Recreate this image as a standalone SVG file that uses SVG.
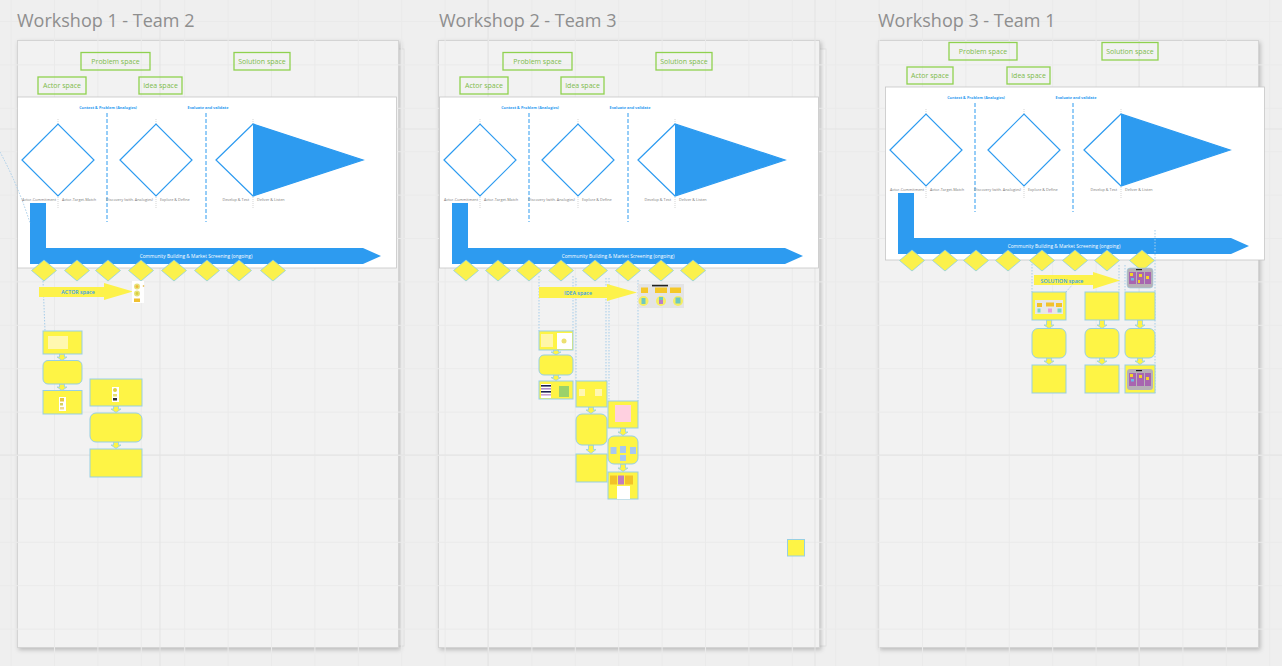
<svg xmlns="http://www.w3.org/2000/svg" width="1282" height="666" viewBox="0 0 1282 666">
<defs>
<filter id="sh" x="-5%" y="-5%" width="110%" height="110%"><feDropShadow dx="1.5" dy="2" stdDeviation="2" flood-color="#000" flood-opacity="0.22"/></filter>
<pattern id="grid" x="488" y="455" width="43.4" height="43.4" patternUnits="userSpaceOnUse"><path d="M0,0.5 H43.4 M0.5,0 V43.4" stroke="#eaeaea" stroke-width="1" fill="none"/></pattern>
<style>
text{font-family:"Open Sans","Liberation Sans",sans-serif}
.frame{fill:#f2f2f2;stroke:#d4d4d4;stroke-width:1;filter:url(#sh)}
.back{fill:#f6f6f6;stroke:#dedede;stroke-width:.8}
.title{font-size:18px;fill:#8e8e8e}
.hdr rect{fill:none;stroke:#8fd14f;stroke-width:1.3}
.hdr text{font-size:7px;fill:#7dbb4a;text-anchor:middle}
.panel{fill:#fff;stroke:#c6c6c6;stroke-width:.8}
.ph{font-size:3.8px;font-weight:700;fill:#2d9bf0;text-anchor:middle}
.lbl{font-size:3.8px;fill:#7a7a7a}
.lr{text-anchor:end}
.dash{stroke:#2d9bf0;stroke-width:1;stroke-dasharray:4 2}
.dot{stroke:#b8b8b8;stroke-width:.6;stroke-dasharray:1 1}
.dia{fill:#fff;stroke:#2d9bf0;stroke-width:1.2}
.blue{fill:#2d9bf0}
.cm{font-size:4.8px;fill:#fff;text-anchor:middle}
.yd{fill:#fbf14c;stroke:#8ecfe0;stroke-width:.8}
.box{fill:#fef445;stroke:#97cfe3;stroke-width:1}
.barrow{fill:#fef445;stroke:#97cfe3;stroke-width:.8}
.space{fill:#fdf24a}
.spt{font-size:5.3px;fill:#2d9bf0;text-anchor:middle;font-weight:600}
.link{stroke:#a6cdea;stroke-width:1;stroke-dasharray:1.5 1.5;fill:none}
.major{stroke:#e3e3e3;stroke-width:1}
</style>
</defs>
<rect width="1282" height="666" fill="#efefef"/>
<g id="frames">
<rect class="back" x="22" y="49" width="382" height="597"/>
<rect class="back" x="444" y="49" width="382" height="597"/>
<rect class="frame" x="17.5" y="40.5" width="381" height="607"/>
<rect class="frame" x="438.5" y="40.5" width="381" height="607"/>
<rect class="frame" x="878.5" y="40.5" width="380" height="607"/>
</g>
<g id="grid-layer">
<rect width="1282" height="666" fill="url(#grid)"/>
<line class="major" x1="160" y1="0" x2="160" y2="666"/>
<line class="major" x1="488" y1="0" x2="488" y2="666"/>
<line class="major" x1="815" y1="0" x2="815" y2="666"/>
<line class="major" x1="1139" y1="0" x2="1139" y2="666"/>
<line class="major" x1="0" y1="129" x2="1282" y2="129"/>
<line class="major" x1="0" y1="455" x2="1282" y2="455"/>
</g>
<g id="titles">
<text class="title" x="17" y="27">Workshop 1 - Team 2</text>
<text class="title" x="439" y="27">Workshop 2 - Team 3</text>
<text class="title" x="878" y="27">Workshop 3 - Team 1</text>
</g>

<g id="w1" transform="translate(17,40)">
<g id="w1-problem-space" class="hdr"><rect x="64" y="12.5" width="69" height="17.5"/><text x="98.5" y="23.5">Problem space</text></g>
<g id="w1-solution-space" class="hdr"><rect x="217" y="12.5" width="56" height="17.5"/><text x="245" y="23.5">Solution space</text></g>
<g id="w1-actor-space" class="hdr"><rect x="21" y="37" width="48" height="17"/><text x="45" y="48">Actor space</text></g>
<g id="w1-idea-space" class="hdr"><rect x="122" y="37" width="43" height="17"/><text x="143.5" y="48">Idea space</text></g>
<g id="w1-panel"><rect class="panel" x="0.5" y="57" width="379" height="171"/></g>
<g id="w1-phases">
<text class="ph" x="91" y="68.5">Context &amp; Problem (Analogies)</text>
<text class="ph" x="191" y="68.5">Evaluate and validate</text>
<line class="dash" x1="90" y1="73" x2="90" y2="182"/>
<line class="dash" x1="189" y1="73" x2="189" y2="182"/>
<line class="dot" x1="41" y1="79" x2="41" y2="168"/>
<line class="dot" x1="139" y1="79" x2="139" y2="168"/>
<line class="dot" x1="236" y1="79" x2="236" y2="168"/>
</g>
<g id="w1-diamond-actor"><polygon class="dia" points="5,120 41,84 77,120 41,156"/></g>
<g id="w1-diamond-idea"><polygon class="dia" points="103,120 139,84 175,120 139,156"/></g>
<g id="w1-diamond-solution"><polygon class="dia" points="199,120 236,84 346,120 236,156"/><polygon class="blue" points="236,84 346,120 236,156"/></g>
<g id="w1-labels">
<text class="lbl lr" x="39" y="161">Actor-Commitment</text>
<text class="lbl" x="45" y="161">Actor-Target-Match</text>
<text class="lbl lr" x="136" y="161">Discovery (with. Analogies)</text>
<text class="lbl" x="143" y="161">Explore &amp; Define</text>
<text class="lbl lr" x="232" y="161">Develop &amp; Test</text>
<text class="lbl" x="240" y="161">Deliver &amp; Listen</text>
</g>
<g id="w1-community"><path class="blue" d="M13,163 H29 V208 H346 L364,216 L346,224 H13 Z"/><text class="cm" x="179" y="217.8">Community Building &amp; Market Screening (ongoing)</text></g>
<g id="w1-steps">
<polygon class="yd" points="14.5,230.5 27,220 39.5,230.5 27,241"/>
<polygon class="yd" points="47.5,230.5 60,220 72.5,230.5 60,241"/>
<polygon class="yd" points="78.5,230.5 91,220 103.5,230.5 91,241"/>
<polygon class="yd" points="111.5,230.5 124,220 136.5,230.5 124,241"/>
<polygon class="yd" points="144.5,230.5 157,220 169.5,230.5 157,241"/>
<polygon class="yd" points="177.5,230.5 190,220 202.5,230.5 190,241"/>
<polygon class="yd" points="209.5,230.5 222,220 234.5,230.5 222,241"/>
<polygon class="yd" points="243.5,230.5 256,220 268.5,230.5 256,241"/>
</g>
</g>

<g id="w2" transform="translate(439,40)">
<g id="w2-problem-space" class="hdr"><rect x="64" y="12.5" width="69" height="17.5"/><text x="98.5" y="23.5">Problem space</text></g>
<g id="w2-solution-space" class="hdr"><rect x="217" y="12.5" width="56" height="17.5"/><text x="245" y="23.5">Solution space</text></g>
<g id="w2-actor-space" class="hdr"><rect x="21" y="37" width="48" height="17"/><text x="45" y="48">Actor space</text></g>
<g id="w2-idea-space" class="hdr"><rect x="122" y="37" width="43" height="17"/><text x="143.5" y="48">Idea space</text></g>
<g id="w2-panel"><rect class="panel" x="0.5" y="57" width="379" height="171"/></g>
<g id="w2-phases">
<text class="ph" x="91" y="68.5">Context &amp; Problem (Analogies)</text>
<text class="ph" x="191" y="68.5">Evaluate and validate</text>
<line class="dash" x1="90" y1="73" x2="90" y2="182"/>
<line class="dash" x1="189" y1="73" x2="189" y2="182"/>
<line class="dot" x1="41" y1="79" x2="41" y2="168"/>
<line class="dot" x1="139" y1="79" x2="139" y2="168"/>
<line class="dot" x1="236" y1="79" x2="236" y2="168"/>
</g>
<g id="w2-diamond-actor"><polygon class="dia" points="5,120 41,84 77,120 41,156"/></g>
<g id="w2-diamond-idea"><polygon class="dia" points="103,120 139,84 175,120 139,156"/></g>
<g id="w2-diamond-solution"><polygon class="dia" points="199,120 236,84 346,120 236,156"/><polygon class="blue" points="236,84 346,120 236,156"/></g>
<g id="w2-labels">
<text class="lbl lr" x="39" y="161">Actor-Commitment</text>
<text class="lbl" x="45" y="161">Actor-Target-Match</text>
<text class="lbl lr" x="136" y="161">Discovery (with. Analogies)</text>
<text class="lbl" x="143" y="161">Explore &amp; Define</text>
<text class="lbl lr" x="232" y="161">Develop &amp; Test</text>
<text class="lbl" x="240" y="161">Deliver &amp; Listen</text>
</g>
<g id="w2-community"><path class="blue" d="M13,163 H29 V208 H346 L364,216 L346,224 H13 Z"/><text class="cm" x="179" y="217.8">Community Building &amp; Market Screening (ongoing)</text></g>
<g id="w2-steps">
<polygon class="yd" points="14.5,230.5 27,220 39.5,230.5 27,241"/>
<polygon class="yd" points="46.5,230.5 59,220 71.5,230.5 59,241"/>
<polygon class="yd" points="77.5,230.5 90,220 102.5,230.5 90,241"/>
<polygon class="yd" points="109.5,230.5 122,220 134.5,230.5 122,241"/>
<polygon class="yd" points="143.5,230.5 156,220 168.5,230.5 156,241"/>
<polygon class="yd" points="176.5,230.5 189,220 201.5,230.5 189,241"/>
<polygon class="yd" points="209.5,230.5 222,220 234.5,230.5 222,241"/>
<polygon class="yd" points="241.5,230.5 254,220 266.5,230.5 254,241"/>
</g>
</g>

<g id="w3" transform="translate(885,30)">
<g id="w3-problem-space" class="hdr"><rect x="64" y="12.5" width="68" height="17.5"/><text x="98" y="23.5">Problem space</text></g>
<g id="w3-solution-space" class="hdr"><rect x="217" y="12.5" width="56" height="17.5"/><text x="245" y="23.5">Solution space</text></g>
<g id="w3-actor-space" class="hdr"><rect x="22" y="37" width="46" height="17"/><text x="45" y="48">Actor space</text></g>
<g id="w3-idea-space" class="hdr"><rect x="122" y="37" width="43" height="17"/><text x="143.5" y="48">Idea space</text></g>
<g id="w3-panel"><rect class="panel" x="0.5" y="57" width="379" height="173"/></g>
<g id="w3-phases">
<text class="ph" x="91" y="68.5">Context &amp; Problem (Analogies)</text>
<text class="ph" x="191" y="68.5">Evaluate and validate</text>
<line class="dash" x1="90" y1="73" x2="90" y2="182"/>
<line class="dash" x1="188" y1="73" x2="188" y2="182"/>
<line class="dot" x1="41" y1="79" x2="41" y2="168"/>
<line class="dot" x1="139" y1="79" x2="139" y2="168"/>
<line class="dot" x1="236" y1="79" x2="236" y2="168"/>
</g>
<g id="w3-diamond-actor"><polygon class="dia" points="5,120 41,84 77,120 41,156"/></g>
<g id="w3-diamond-idea"><polygon class="dia" points="103,120 139,84 175,120 139,156"/></g>
<g id="w3-diamond-solution"><polygon class="dia" points="199,120 236,84 345,120 236,156"/><polygon class="blue" points="236,84 345,120 236,156"/></g>
<g id="w3-labels">
<text class="lbl lr" x="39" y="161">Actor-Commitment</text>
<text class="lbl" x="45" y="161">Actor-Target-Match</text>
<text class="lbl lr" x="136" y="161">Discovery (with. Analogies)</text>
<text class="lbl" x="143" y="161">Explore &amp; Define</text>
<text class="lbl lr" x="232" y="161">Develop &amp; Test</text>
<text class="lbl" x="240" y="161">Deliver &amp; Listen</text>
</g>
<g id="w3-community"><path class="blue" d="M13,163 H29 V208 H346 L364,216 L346,224 H13 Z"/><text class="cm" x="179" y="217.8">Community Building &amp; Market Screening (ongoing)</text></g>
<g id="w3-steps">
<polygon class="yd" points="14.5,230.5 27,220 39.5,230.5 27,241"/>
<polygon class="yd" points="47.5,230.5 60,220 72.5,230.5 60,241"/>
<polygon class="yd" points="78.5,230.5 91,220 103.5,230.5 91,241"/>
<polygon class="yd" points="110.5,230.5 123,220 135.5,230.5 123,241"/>
<polygon class="yd" points="144.5,230.5 157,220 169.5,230.5 157,241"/>
<polygon class="yd" points="177.5,230.5 190,220 202.5,230.5 190,241"/>
<polygon class="yd" points="209.5,230.5 222,220 234.5,230.5 222,241"/>
<polygon class="yd" points="244.5,230.5 257,220 269.5,230.5 257,241"/>
</g>
</g>

<g id="connectors">
<path class="link" d="M0,152 Q18,185 30,223"/>
<path class="link" d="M43,281 L45,331"/>
<line class="link" x1="539" y1="276" x2="539" y2="331"/>
<line class="link" x1="573" y1="276" x2="573" y2="331"/>
<line class="link" x1="576" y1="278" x2="576" y2="381"/>
<line class="link" x1="606" y1="278" x2="606" y2="381"/>
<line class="link" x1="609" y1="278" x2="609" y2="401"/>
<line class="link" x1="638" y1="280" x2="638" y2="401"/>
<line class="link" x1="1032" y1="264" x2="1032" y2="292"/>
<path class="link" d="M1066,292 L1080,276"/>
<line class="link" x1="1119" y1="265" x2="1119" y2="292"/>
<line class="link" x1="1125" y1="265" x2="1125" y2="292"/>
<line class="link" x1="1155" y1="230" x2="1155" y2="393"/>
<path class="barrow" d="M59.5,354 H64.5 V357 H67 L62,360.5 L57,357 H59.5 Z"/>
<path class="barrow" d="M59.5,384 H64.5 V387 H67 L62,390.5 L57,387 H59.5 Z"/>
<path class="barrow" d="M113.5,406 H118.5 V409 H121 L116,412.5 L111,409 H113.5 Z"/>
<path class="barrow" d="M113.5,442 H118.5 V445 H121 L116,448.5 L111,445 H113.5 Z"/>
<path class="barrow" d="M553.5,350 H558.5 V352 H561 L556,355 L551,352 H553.5 Z"/>
<path class="barrow" d="M553.5,375 H558.5 V377.5 H561 L556,380.5 L551,377.5 H553.5 Z"/>
<path class="barrow" d="M588.5,407 H593.5 V410 H596 L591,413.5 L586,410 H588.5 Z"/>
<path class="barrow" d="M588.5,445 H593.5 V449.5 H596 L591,453.5 L586,449.5 H588.5 Z"/>
<path class="barrow" d="M620.5,428 H625.5 V432 H628 L623,435.5 L618,432 H620.5 Z"/>
<path class="barrow" d="M620.5,464 H625.5 V468 H628 L623,471.5 L618,468 H620.5 Z"/>
<path class="barrow" d="M1046.5,320 H1051.5 V325 H1054 L1049,328.5 L1044,325 H1046.5 Z"/>
<path class="barrow" d="M1046.5,358 H1051.5 V361 H1054 L1049,364.5 L1044,361 H1046.5 Z"/>
<path class="barrow" d="M1099.5,320 H1104.5 V325 H1107 L1102,328.5 L1097,325 H1099.5 Z"/>
<path class="barrow" d="M1099.5,358 H1104.5 V361 H1107 L1102,364.5 L1097,361 H1099.5 Z"/>
<path class="barrow" d="M1137.5,320 H1142.5 V325 H1145 L1140,328.5 L1135,325 H1137.5 Z"/>
<path class="barrow" d="M1137.5,358 H1142.5 V361 H1145 L1140,364.5 L1135,361 H1137.5 Z"/>
</g>

<g id="w1-actor-space-arrow"><path class="space" d="M39,287 H104 V283 L133,291.5 L104,300 V297 H39 Z"/><text class="spt" x="78" y="294">ACTOR space</text></g>
<g id="w1-actor-icons"><rect x="132" y="281" width="12" height="22" fill="#fff"/><circle cx="137" cy="286.5" r="3" fill="#e6e27a"/><circle cx="137" cy="286.5" r="1.5" fill="#f0b83a"/><circle cx="137" cy="293.5" r="3" fill="#e6e27a"/><circle cx="137" cy="293.5" r="1.4" fill="#d9cf3c"/><rect x="134" y="298.5" width="6" height="3.5" fill="#f0c030"/><circle cx="143.5" cy="286" r=".8" fill="#e0b030"/></g>
<g id="w1-node-a"><rect class="box" x="43" y="331" width="39" height="23"/><rect x="48" y="336" width="20" height="13" fill="#fff8b0"/></g>
<g id="w1-node-b"><rect class="box" x="43" y="360.5" width="39" height="23.5" rx="5"/></g>
<g id="w1-node-c"><rect class="box" x="43" y="390.5" width="39" height="23.5"/><rect x="59" y="397" width="7" height="14" fill="#fff"/><rect x="60" y="398" width="4" height="3.5" fill="#e8c840"/><rect x="60" y="403" width="3" height="2.5" fill="#d4d060"/><rect x="60" y="407" width="4" height="2.5" fill="#f0d890"/></g>
<g id="w1-node-d"><rect class="box" x="90" y="379" width="52" height="27"/><rect x="112" y="387" width="7" height="15" fill="#fff"/><circle cx="115" cy="390" r="2" fill="#e0d040"/><rect x="113" y="394" width="4" height="2.5" fill="#e6e070"/><rect x="113" y="398" width="4" height="2.5" fill="#333"/></g>
<g id="w1-node-e"><rect class="box" x="90" y="413" width="52" height="29" rx="6"/></g>
<g id="w1-node-f"><rect class="box" x="90" y="449" width="52" height="28"/></g>

<g id="w2-idea-space-arrow"><path class="space" d="M539,287 H607 V284 L637,292.5 L607,301 V298 H539 Z"/><text class="spt" x="578" y="294.5">IDEA space</text></g>
<g id="w2-idea-board"><rect x="638" y="284" width="46" height="24" fill="#e4e4e4"/><rect x="652" y="284.8" width="16" height="1.6" fill="#222"/><rect x="641" y="287.5" width="7" height="5.5" fill="#f5c828"/><rect x="655" y="287.5" width="12" height="5.5" fill="#f5c828"/><rect x="670" y="287.5" width="11" height="5.5" fill="#f5c828"/><circle cx="643.5" cy="301" r="5" fill="#f5ee60"/><rect x="641.5" y="298" width="4" height="6" fill="#6fc8c0"/><circle cx="661" cy="301" r="5" fill="#f5ee60"/><rect x="659" y="297" width="4" height="3" fill="#6fc8c0"/><rect x="659" y="300" width="4" height="4" fill="#b880c8"/><circle cx="678" cy="301" r="5" fill="#f5ee60"/><rect x="675.5" y="297.5" width="5" height="6" fill="#6fc8c0"/></g>
<g id="w2-node-a"><rect class="box" x="539" y="331" width="34" height="19"/><rect x="541" y="334" width="12" height="13" fill="#fff6a8"/><rect x="557" y="333" width="15" height="16" fill="#fff"/><circle cx="564" cy="341" r="2.5" fill="#ece070"/></g>
<g id="w2-node-b"><rect class="box" x="539" y="355" width="34" height="20" rx="5"/></g>
<g id="w2-node-c"><rect class="box" x="539" y="381" width="34" height="18"/><rect x="541" y="384" width="10" height="14" fill="#fff"/><rect x="541" y="385" width="10" height="1.6" fill="#1c2050"/><rect x="541" y="388" width="10" height="1.6" fill="#b090c8"/><rect x="541" y="391" width="10" height="1.6" fill="#1c2050"/><rect x="541" y="394" width="10" height="1.6" fill="#c8a0d0"/><rect x="559" y="386" width="10" height="11" fill="#9bd26a"/></g>
<g id="w2-node-d"><rect class="box" x="576" y="381" width="31" height="26"/><rect x="579" y="389" width="6" height="7" fill="#fff7b0"/><rect x="595" y="389" width="7" height="7" fill="#fff7b0"/></g>
<g id="w2-node-e"><rect class="box" x="576" y="414" width="31" height="31" rx="6"/></g>
<g id="w2-node-f"><rect class="box" x="576" y="454" width="31" height="28"/></g>
<g id="w2-node-g"><rect class="box" x="608" y="401" width="30" height="27"/><rect x="615" y="405" width="16" height="17" fill="#ffd0e0"/></g>
<g id="w2-node-h"><rect class="box" x="608" y="436" width="30" height="28" rx="6"/><rect x="610.5" y="447" width="6" height="7" fill="#a8c8f0"/><rect x="620" y="446" width="6" height="7" fill="#a8c8f0"/><rect x="630" y="447" width="6" height="7" fill="#a8c8f0"/><rect x="620" y="455" width="6" height="6" fill="#a8c8f0"/></g>
<g id="w2-node-i"><rect class="box" x="608" y="472" width="30" height="27"/><rect x="610" y="475.5" width="7" height="9" fill="#f2c22a"/><rect x="618" y="475.5" width="6" height="9" fill="#c07ec0"/><rect x="625" y="475.5" width="8" height="9" fill="#f2c22a"/><rect x="617" y="486" width="13" height="13" fill="#fff"/></g>
<g id="w2-node-note"><rect class="box" x="787.5" y="539.5" width="17" height="16.5"/></g>

<g id="w3-solution-space-arrow"><path class="space" d="M1034,275 H1093 V272 L1120,280.5 L1093,289 V285 H1034 Z"/><text class="spt" x="1062" y="282.5">SOLUTION space</text></g>
<g id="w3-solution-board"><rect x="1127" y="268" width="26" height="20" rx="3" fill="#b7b1b7" stroke="#97cfe3" stroke-width=".6"/><rect x="1136" y="269" width="6" height="1.2" fill="#222"/><rect x="1129" y="272" width="7" height="12" fill="#a866b0"/><rect x="1137" y="272" width="7" height="12" fill="#a866b0"/><rect x="1145" y="272" width="6" height="12" fill="#a866b0"/><rect x="1130" y="273" width="3" height="3" fill="#f5d327"/><rect x="1131" y="278" width="3" height="2.5" fill="#6fb8e8"/><rect x="1139" y="274" width="3" height="3" fill="#f5d327"/><rect x="1146" y="276" width="3" height="3" fill="#f5d327"/><rect x="1138" y="280" width="2" height="3" fill="#f5d327"/></g>
<g id="w3-node-a"><rect class="box" x="1032" y="292" width="34" height="28"/><rect x="1035" y="300" width="28" height="14" fill="#e8e8e8"/><rect x="1037" y="303" width="5" height="4" fill="#f2c22a"/><rect x="1046" y="302.5" width="8" height="4" fill="#f2c22a"/><rect x="1056" y="303" width="6" height="4" fill="#f2c22a"/><rect x="1037.5" y="308.5" width="3" height="4" fill="#7fd3c8"/><rect x="1048" y="308.5" width="4" height="4" fill="#e4a0e0"/><rect x="1057.5" y="308.5" width="4" height="4" fill="#7fd3c8"/></g>
<g id="w3-node-b"><rect class="box" x="1032" y="328.5" width="34" height="29.5" rx="6"/></g>
<g id="w3-node-c"><rect class="box" x="1032" y="365" width="34" height="28"/></g>
<g id="w3-node-d"><rect class="box" x="1085" y="292" width="34" height="28"/></g>
<g id="w3-node-e"><rect class="box" x="1085" y="328.5" width="34" height="29.5" rx="6"/></g>
<g id="w3-node-f"><rect class="box" x="1085" y="365" width="34" height="28"/></g>
<g id="w3-node-g"><rect class="box" x="1125" y="292" width="30" height="28"/></g>
<g id="w3-node-h"><rect class="box" x="1125" y="328.5" width="30" height="29.5" rx="6"/></g>
<g id="w3-node-i"><rect class="box" x="1125" y="365" width="30" height="28"/><rect x="1127" y="369" width="26" height="21" rx="3" fill="#b7b1b7"/><rect x="1136" y="370" width="6" height="1.2" fill="#222"/><rect x="1129" y="373" width="7" height="13" fill="#a866b0"/><rect x="1137" y="373" width="7" height="13" fill="#a866b0"/><rect x="1145" y="373" width="6" height="13" fill="#a866b0"/><rect x="1130" y="374" width="3" height="3" fill="#f5d327"/><rect x="1131" y="379" width="3" height="2.5" fill="#6fb8e8"/><rect x="1139" y="375" width="3" height="3" fill="#f5d327"/><rect x="1146" y="377" width="3" height="3" fill="#f5d327"/></g>
</svg>
